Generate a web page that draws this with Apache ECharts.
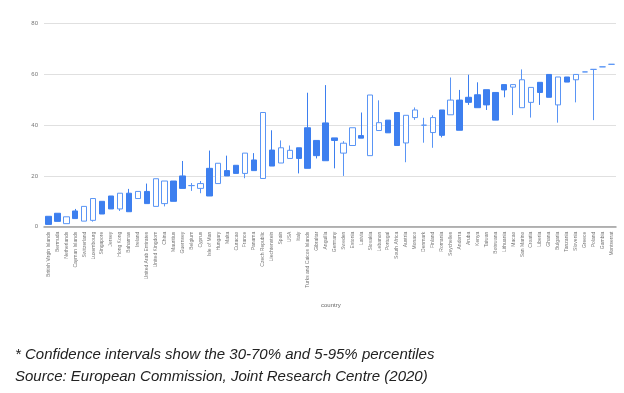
<!DOCTYPE html>
<html>
<head>
<meta charset="utf-8">
<script src="https://cdn.jsdelivr.net/npm/echarts@6/dist/echarts.min.js"></script>
<style>html,body{margin:0;padding:0;background:#fff;}#c{width:624px;height:393px;}</style>
</head>
<body>
<div id="c"></div>
<script>
var categories = ["British Virgin Islands","Bermuda","Netherlands","Cayman Islands","Switzerland","Luxembourg","Singapore","Jersey","Hong Kong","Bahamas","Ireland","United Arab Emirates","United Kingdom","China","Mauritius","Guernsey","Belgium","Cyprus","Isle of Man","Hungary","Malta","Curacao","France","Panama","Czech Republic","Liechtenstein","Spain","USA","Italy","Turks and Caicos Islands","Gibraltar","Anguilla","Germany","Sweden","Estonia","Latvia","Slovakia","Lebanon","Portugal","South Africa","Austria","Monaco","Denmark","Finland","Romania","Seychelles","Andorra","Aruba","Kenya","Taiwan","Botswana","Lithuania","Macao","San Marino","Croatia","Liberia","Ghana","Bulgaria","Tanzania","Slovenia","Greece","Poland","Gambia","Montserrat"];
var openVals  = [4.1,5.3,1.2,6.2,2.2,2.5,10,12.1,7,13.2,11.1,13.9,8,9.1,18,20,16.2,15.1,23,17,22.1,24.2,21,26.3,19,30.2,25.1,26.9,31.1,39,34,40.9,35,29,32,35.9,28,37.9,42,45,33,43,40,37.1,46,44.1,49.9,51,52,54,52.9,56,55,46.9,49,56.9,60,48,59,57.9,61,62,63,64];
var closeVals = [0.9,2.1,3.9,3.2,8.0,11.1,5,7,13.2,5.9,13.9,9.1,18.9,18,10,15.1,16.2,17,12.1,25,20,21,29,22.1,45,23.9,31.1,30.1,26.9,23,28,26,34,32.9,39,34.9,51.9,41,37,32,43.9,46,40,43,36,49.9,38,49,46.9,48,42,53.9,56,57.9,54.9,52.9,51,59,57,60,61,62,63,64];
var lowVals   = [0.9,2.1,1.2,3.2,2.2,2.0,5,7,6.2,5.9,11.1,9.1,8,8,10,15.1,14.1,13.2,12.1,17,20,21,19.1,22.1,19,23.9,25.1,26.9,21,23,26.9,26,23,20,32,34.9,28,37.9,37,32,25.4,42.1,33.1,31.1,35.2,44.1,38,48,46.9,46,42,51,44,46.9,43,48,51,41,57,49,61,42,63,64];
var highVals  = [4.1,5.3,3.9,7.0,8.0,11.1,10,12.1,13.2,14.9,13.9,17,18.9,18,18,25.9,17.2,18,30,25,28,24.2,29,29,45,38,34,32,31.1,52.8,34,55.8,35,33.7,39,45,51.9,49.8,42,45,43.9,47,42.9,43.9,46,58.8,53.9,59.9,56.9,54,52.9,56,56,62,54.9,56.9,60,59,59,60,61,62,63,64];
var yTicks = [0,20,40,60,80];

var data = categories.map(function(c,i){return [openVals[i],closeVals[i],lowVals[i],highVals[i]];});
var blue = '#4285f4';
var chart = echarts.init(document.getElementById('c'), null, {renderer:'canvas'});
chart.setOption({
  animation:false,
  backgroundColor:'#fff',
  grid:{left:44,right:8,top:23.7,bottom:166.3},
  xAxis:{
    type:'category', data:categories, boundaryGap:true,
    axisLine:{show:true,lineStyle:{color:'#9e9e9e',width:1.5}},
    axisTick:{show:false},
    axisLabel:{interval:0,rotate:90,fontSize:5,color:'#777',fontFamily:'Liberation Sans',margin:5},
    splitLine:{show:false}
  },
  yAxis:{
    type:'value', min:yTicks[0], max:yTicks[yTicks.length-1], interval:20,
    axisLine:{show:false}, axisTick:{show:false},
    axisLabel:{fontSize:6,color:'#777',fontFamily:'Liberation Sans',margin:6},
    splitLine:{lineStyle:{color:'#e0e0e0',width:1}}
  },
  series:[{
    type:'candlestick', data:data, barWidth:'66%',
    itemStyle:{color:'#ffffff',color0:'#3d7fef',borderColor:'#5a95f5',borderColor0:'#3d7fef',borderColorDoji:'#5a95f5',borderWidth:1}
  }],
  graphic:[
    {type:'text',left:321,top:302,style:{text:'country',fontSize:6,fill:'#666',fontFamily:'Liberation Sans'}},
    {type:'text',left:15,top:347,style:{text:'* Confidence intervals show the 30-70% and 5-95% percentiles',fontSize:15,fontStyle:'italic',fill:'#222',fontFamily:'Liberation Sans'}},
    {type:'text',left:15,top:369,style:{text:'Source: European Commission, Joint Research Centre (2020)',fontSize:15,fontStyle:'italic',fill:'#222',fontFamily:'Liberation Sans'}}
  ]
});
</script>
</body>
</html>
